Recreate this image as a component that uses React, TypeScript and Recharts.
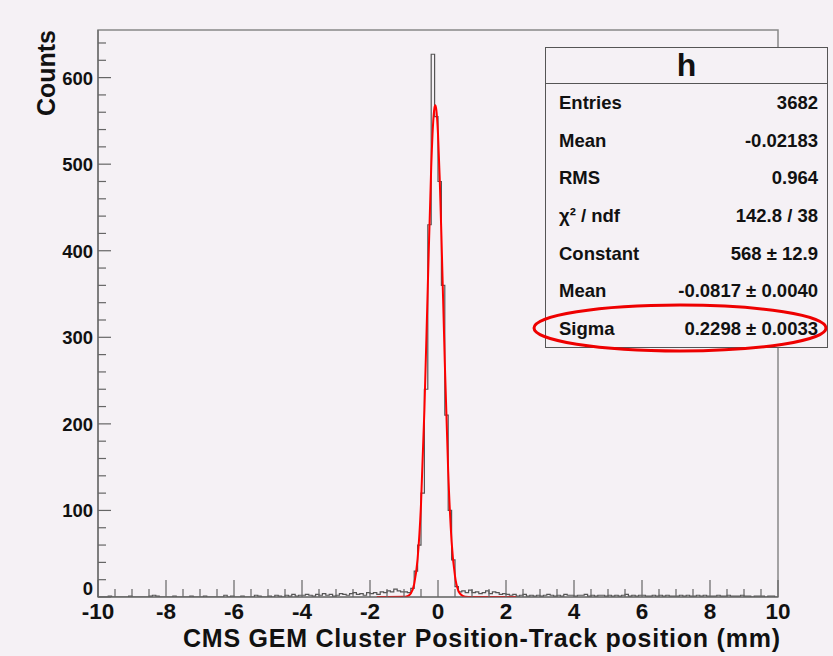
import { ComposedChart, Line, XAxis, YAxis, ReferenceArea } from "recharts"

// histogram bin contents, 0.1 mm bins
const countsLeftTail = [
  0, 0, 0, 1, 0, 0, 0, 0, 0, 1,
  0, 0, 0, 0, 0, 1, 2, 1, 0, 0,
  0, 0, 1, 0, 0, 0, 0, 1, 0, 0,
  0, 1, 0, 0, 0, 0, 0, 2, 0, 1,
  0, 0, 1, 0, 0, 0, 2, 1, 0, 0,
  1, 0, 2, 1, 0, 2, 1, 3, 1, 2,
  2, 3, 2, 1, 3, 2, 4, 2, 3, 1,
  2, 4, 3, 2, 4, 5, 3, 4, 2, 5,
] // -10 .. -2
const countsCore = [
  4, 5, 3, 6, 5, 7, 6, 9, 7, 6,
  6, 5, 10, 30, 60, 120, 240, 430, 627, 555,
  480, 360, 210, 100, 43, 12, 6, 7, 5, 8,
  5, 6, 4, 5, 7, 4, 6, 5, 3, 4,
] // -2 .. 2
const countsRightTail = [
  3, 2, 3, 1, 2, 3, 1, 2, 1, 2,
  1, 2, 3, 2, 1, 2, 1, 3, 2, 2,
  1, 2, 2, 3, 1, 2, 1, 2, 2, 1,
  2, 1, 2, 1, 2, 3, 1, 2, 1, 2,
  2, 1, 1, 2, 1, 2, 1, 2, 1, 1,
  1, 2, 1, 2, 1, 1, 2, 1, 2, 1,
  1, 1, 2, 1, 1, 2, 1, 1, 1, 2,
  1, 1, 0, 1, 1, 1, 0, 1, 1, 0,
] // 2 .. 10

// gaussian fit curve
const fitX = [-1.8, -1.0, -0.9, -0.8, -0.7, -0.6, -0.5, -0.4, -0.3, -0.2, -0.15, -0.1, -0.08, -0.05, 0, 0.05, 0.1, 0.2, 0.3, 0.4, 0.5, 0.6, 0.7, 0.8, 1.0, 2.3]
const fitY = [0, 0.2, 1, 4, 15, 44, 107, 216, 359, 496, 543, 566, 568, 563, 535, 484, 418, 271, 145, 64, 24, 7, 2, 0.4, 0, 0]

const xTicks = Array.from({ length: 41 }, (_, i) => -10 + i * 0.5)
const yTicks = Array.from({ length: 33 }, (_, i) => i * 20)

const statsRows = [
  ["Entries", "3682"],
  ["Mean", "-0.02183"],
  ["RMS", "0.964"],
  ["\u03c7\u00b2 / ndf", "142.8 / 38"],
  ["Constant", "568 \u00b1 12.9"],
  ["Mean", "-0.0817 \u00b1 0.0040"],
  ["Sigma", "0.2298 \u00b1 0.0033"],
]

const FONT = "'Liberation Sans', Arial, sans-serif"
const BG = "#f5f1f5"

const allCounts = [...countsLeftTail, ...countsCore, ...countsRightTail]
const histData = allCounts.map((c, i) => ({ x: (i - 100) / 10, h: c }))
histData.push({ x: 10, h: allCounts[allCounts.length - 1] })
const fitData = fitX.map((x, i) => ({ x, fit: fitY[i] }))

function XTick(props: any) {
  const { x, y, payload } = props
  const v = payload.value
  const major = Math.abs(v % 2) < 1e-6
  return (
    <g>
      <line x1={x} x2={x} y1={y} y2={y - (major ? 17 : 8)} stroke="#666" strokeWidth={1.2} />
      {major && (
        <text x={x} y={y + 22} textAnchor="middle" fontFamily={FONT} fontWeight="bold" fontSize={22.5} fill="#111">
          {v}
        </text>
      )}
    </g>
  )
}

function YTick(props: any) {
  const { x, y, payload } = props
  const v = payload.value
  const major = v % 100 === 0
  return (
    <g>
      <line x1={x} x2={x + (major ? 13 : 8)} y1={y} y2={y} stroke="#666" strokeWidth={1.2} />
      {major && (
        <text x={x - 5} y={v === 0 ? y - 2 : y + 7} textAnchor="end" fontFamily={FONT} fontWeight="bold" fontSize={18.5} fill="#111">
          {v}
        </text>
      )}
    </g>
  )
}

export default function App() {
  return (
    <div style={{ position: "absolute", left: 0, top: 0, width: 833, height: 656, background: BG, fontFamily: FONT }}>
      <ComposedChart width={833} height={656} data={histData} margin={{ top: 30, right: 55, bottom: 0, left: 0 }}>
        <XAxis
          dataKey="x"
          type="number"
          domain={[-10, 10]}
          ticks={xTicks}
          interval={0}
          tick={<XTick />}
          tickLine={false}
          tickSize={0}
          tickMargin={0}
          height={59}
          axisLine={{ stroke: "#666", strokeWidth: 1.2 }}
          allowDataOverflow
        />
        <YAxis
          type="number"
          domain={[0, 655]}
          ticks={yTicks}
          interval={0}
          tick={<YTick />}
          tickLine={false}
          tickSize={0}
          tickMargin={0}
          width={98}
          axisLine={{ stroke: "#666", strokeWidth: 1.2 }}
          allowDataOverflow
        />
        <ReferenceArea x1={-10} x2={10} y1={0} y2={655} fill="none" stroke="#888" strokeWidth={1.5} ifOverflow="visible" />
        <Line
          dataKey="h"
          type="stepAfter"
          stroke="#555"
          strokeWidth={1.2}
          dot={false}
          activeDot={false}
          isAnimationActive={false}
        />
        <Line
          data={fitData}
          dataKey="fit"
          type="monotone"
          stroke="#ff0000"
          strokeWidth={2}
          dot={false}
          activeDot={false}
          isAnimationActive={false}
        />
      </ComposedChart>

      <svg width={833} height={656} style={{ position: "absolute", left: 0, top: 0, pointerEvents: "none" }}>
        <text x={55} y={30} transform="rotate(-90 55 30)" textAnchor="end" fontFamily={FONT} fontWeight="bold" fontSize={25} fill="#111">
          Counts
        </text>
        <text x={780} y={647} textAnchor="end" textLength={597} lengthAdjust="spacing" fontFamily={FONT} fontWeight="bold" fontSize={25} fill="#111">
          CMS GEM Cluster Position-Track position (mm)
        </text>
      </svg>

      <div
        style={{
          position: "absolute",
          left: 545,
          top: 47,
          width: 283,
          height: 301,
          background: BG,
          border: "1px solid #555",
          boxSizing: "border-box",
          fontWeight: "bold",
          color: "#111",
        }}
      >
        <div style={{ height: 35, borderBottom: "1px solid #555", textAlign: "center", fontSize: 32, lineHeight: "35px" }}>h</div>
        {statsRows.map(([k, v], i) => (
          <div
            key={i}
            style={{ height: 37.7, display: "flex", justifyContent: "space-between", alignItems: "center", padding: "0 9px 0 13px", fontSize: 18.5 }}
          >
            <span>{k}</span>
            <span>{v}</span>
          </div>
        ))}
      </div>

      <svg width={833} height={656} style={{ position: "absolute", left: 0, top: 0, pointerEvents: "none" }}>
        <ellipse cx={680} cy={328} rx={146} ry={23} fill="none" stroke="#ee0000" strokeWidth={3} />
      </svg>
    </div>
  )
}
